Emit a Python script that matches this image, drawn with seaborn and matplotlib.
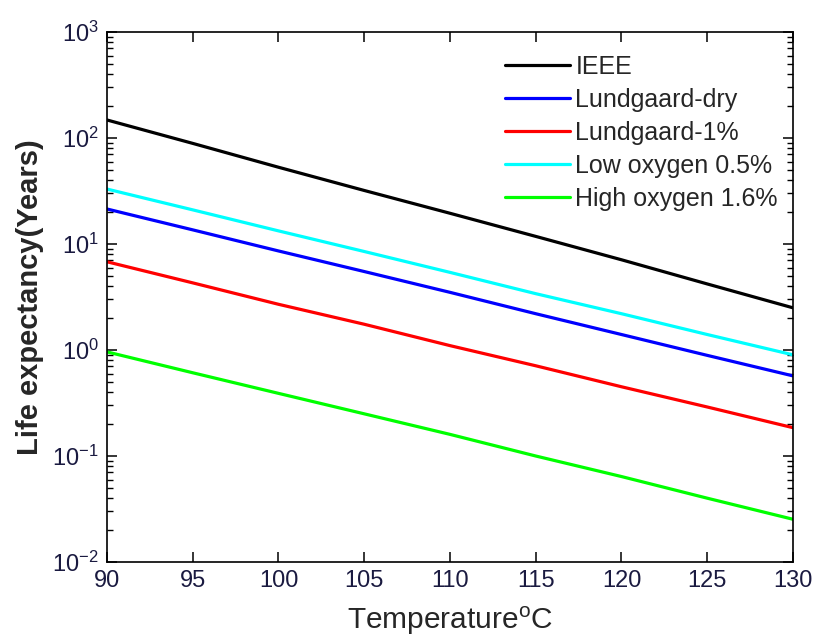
import matplotlib
matplotlib.use("Agg")
import matplotlib.pyplot as plt
import pandas as pd
import seaborn as sns

# values (years, log scale)
temps = [90, 95, 100, 105, 110, 115, 120, 125, 130]
ieee = [148, 89, 53, 32, 19.5, 11.8, 7.1, 4.2, 2.5]
lund_dry = [21.4, 13.6, 8.6, 5.5, 3.5, 2.2, 1.4, 0.89, 0.57]
lund_1 = [6.8, 4.3, 2.7, 1.75, 1.1, 0.71, 0.45, 0.29, 0.185]
low_ox = [33, 21, 13.3, 8.5, 5.4, 3.4, 2.2, 1.4, 0.90]
high_ox = [0.96, 0.61, 0.39, 0.25, 0.16, 0.10, 0.064, 0.040, 0.0253]

names = ["IEEE", "Lundgaard-dry", "Lundgaard-1%", "Low oxygen 0.5%", "High oxygen 1.6%"]
colors = ["#000000", "#0000ff", "#ff0000", "#00ffff", "#00ff00"]

rows = []
for name, vals in zip(names, [ieee, lund_dry, lund_1, low_ox, high_ox]):
    for t, v in zip(temps, vals):
        rows.append({"temp": t, "life": v, "model": name})
df = pd.DataFrame(rows)

sns.set_theme(style="ticks")
plt.rcParams["font.family"] = ["Liberation Sans", "DejaVu Sans"]
plt.rcParams["mathtext.fontset"] = "custom"
plt.rcParams["mathtext.rm"] = "Liberation Sans"
plt.rcParams["mathtext.it"] = "Liberation Sans:italic"
plt.rcParams["mathtext.bf"] = "Liberation Sans:bold"

fig = plt.figure(figsize=(8.14, 6.39), dpi=100)
ax = fig.add_axes([0.1314, 0.1205, 0.8428, 0.8294])

sns.lineplot(data=df, x="temp", y="life", hue="model", hue_order=names,
             palette=colors, linewidth=2.3, ax=ax, legend=False)

ax.set_yscale("log")
ax.set_xlim(90, 130)
ax.set_ylim(1e-2, 1e3)
ax.set_xticks(range(90, 131, 5))

for sp in ax.spines.values():
    sp.set_visible(True)
    sp.set_color("black")
    sp.set_linewidth(1.2)

ax.tick_params(which="both", direction="in", top=True, right=True,
               colors="black", labelcolor="#1a1a40")
ax.tick_params(which="major", length=7, width=1.1, labelsize=17, pad=6)
ax.tick_params(which="minor", length=4, width=1.0)

ax.set_xlabel(r"Temperature$^{\mathrm{o}}$C", fontsize=21.5, labelpad=9)
ax.set_ylabel("Life expectancy(Years)", fontsize=21, fontweight="bold", labelpad=6)

handles = [plt.Line2D([], [], color=c, linewidth=2.3) for c in colors]
ax.legend(handles, names, loc="upper right", bbox_to_anchor=(1.0, 0.985),
          frameon=False, fontsize=18, handlelength=2.6, handletextpad=0.2,
          labelspacing=0.36, borderaxespad=0.2)

fig.savefig("out.png", dpi=100)
